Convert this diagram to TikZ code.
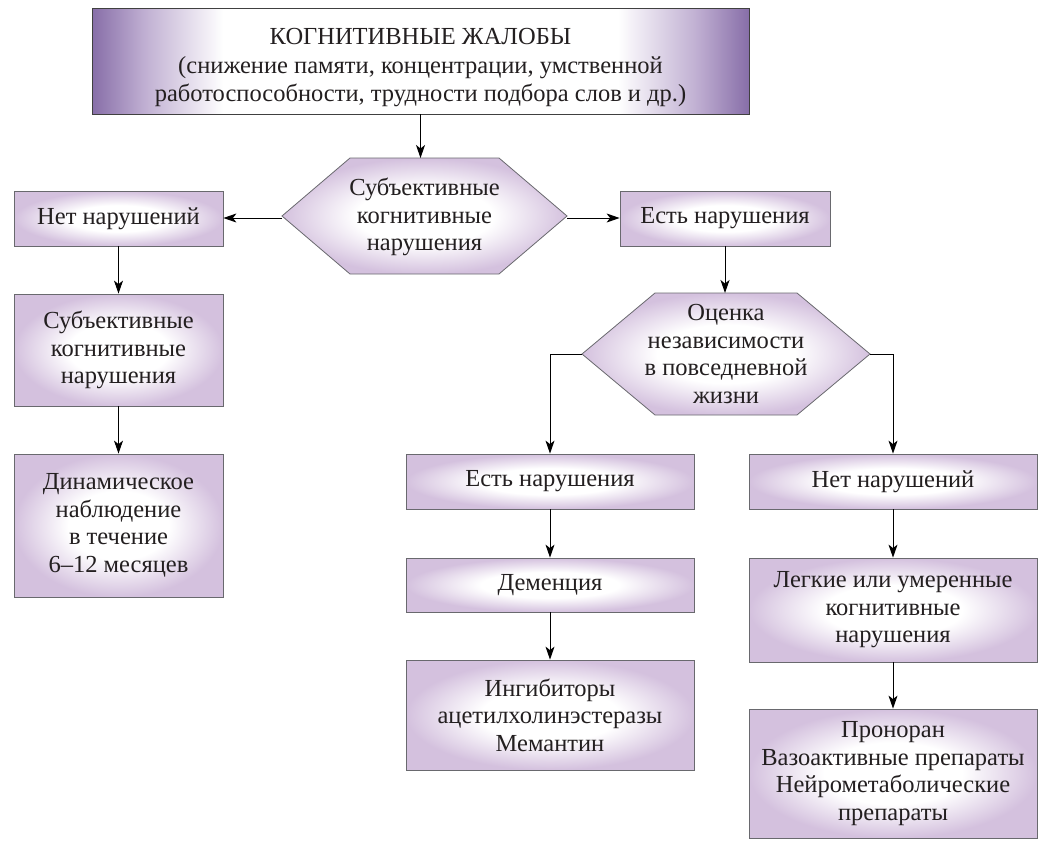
\documentclass[tikz,border=0pt]{standalone}
\usepackage{fontspec}
\setmainfont{Liberation Serif}
\usetikzlibrary{arrows.meta,calc}
\definecolor{boxedge}{RGB}{212,193,222}
\definecolor{topedge}{RGB}{135,110,168}
\definecolor{topmid}{RGB}{192,175,210}
\definecolor{bordergray}{RGB}{105,105,110}
\definecolor{txt}{RGB}{35,31,32}
\pgfdeclareradialshading{boxshade}{\pgfpoint{0bp}{0bp}}{color(0bp)=(white); color(12bp)=(white); color(25bp)=(boxedge); color(50bp)=(boxedge)}
\pgfdeclarehorizontalshading{topshade}{100bp}{color(0bp)=(topedge); color(25bp)=(topedge); color(29bp)=(topmid); color(35bp)=(white); color(65bp)=(white); color(71bp)=(topmid); color(75bp)=(topedge); color(100bp)=(topedge)}
\begin{document}
\begin{tikzpicture}[x=1pt,y=-1pt,
  box/.style={draw=bordergray, line width=0.8pt, shading=boxshade, align=center, inner sep=2pt, font=\fontsize{24.5}{27.5}\selectfont, text=txt},
  topbox/.style={box, shading=topshade, draw=black!75},
  hexfill/.style={draw=bordergray, line width=0.8pt, shading=boxshade},
  lbl/.style={align=center, inner sep=0pt, font=\fontsize{24.5}{27.5}\selectfont, text=txt},
  arr/.style={draw=black, line width=1pt, -{Stealth[length=13pt,width=9pt,inset=3.5pt]}}
]
\useasboundingbox (0,0) rectangle (1043,841);

% top box
\node[topbox, minimum width=657pt, minimum height=106pt] (top) at (420.5,61) {};
\node[lbl, font=\fontsize{24.5}{28.5}\selectfont] (toptext) at (420.5,68) {КОГНИТИВНЫЕ ЖАЛОБЫ\\(снижение памяти, концентрации, умственной\\работоспособности, трудности подбора слов и др.)};

% hexagon 1
\path[hexfill] (282,216) -- (350,158) -- (499,158) -- (567,216) -- (499,274) -- (350,274) -- cycle;
\node[lbl] (h1) at (424.5,217) {Субъективные\\когнитивные\\нарушения};
\coordinate (h1n) at (424.5,158);
\coordinate (h1w) at (282,218);
\coordinate (h1e) at (567,218);

% hexagon 2
\path[hexfill] (582,354) -- (655,293) -- (797,293) -- (870,354) -- (797,415) -- (655,415) -- cycle;
\node[lbl] (h2) at (726,354) {Оценка\\независимости\\в повседневной\\жизни};
\coordinate (h2n) at (726,293);
\coordinate (h2w) at (582,354);
\coordinate (h2e) at (870,354);

% left column
\node[box, minimum width=209pt, minimum height=55pt] (L1) at (118.5,218.5) {Нет нарушений};
\node[box, minimum width=209pt, minimum height=112pt] (L2) at (118.5,350) {Субъективные\\когнитивные\\нарушения};
\node[box, minimum width=209pt, minimum height=143pt] (L3) at (118.5,525.5) {Динамическое\\наблюдение\\в течение\\6–12 месяцев};

% right of hex1
\node[box, minimum width=210pt, minimum height=55pt] (R1) at (725,218.5) {Есть нарушения};

% middle column
\node[box, minimum width=288pt, minimum height=55pt] (M1) at (550,481.5) {Есть нарушения};
\node[box, minimum width=288pt, minimum height=54pt] (M2) at (550,585) {Деменция};
\node[box, minimum width=288pt, minimum height=110pt] (M3) at (550,715) {Ингибиторы\\ацетилхолинэстеразы\\Мемантин};

% right column
\node[box, minimum width=288pt, minimum height=55pt] (R2) at (893,481.5) {Нет нарушений};
\node[box, minimum width=288pt, minimum height=104pt] (R3) at (893,610) {Легкие или умеренные\\когнитивные\\нарушения};
\node[box, minimum width=288pt, minimum height=129pt] (R4) at (893,773.5) {Проноран\\Вазоактивные препараты\\Нейрометаболические\\препараты};

% connectors
\draw[arr] (top.south) -- (top.south |- h1n);
\draw[arr] (h1w) -- (L1.east |- h1w);
\draw[arr] (h1e) -- (R1.west |- h1e);
\draw[arr] (R1.south) -- (R1.south |- h2n);
\draw[arr] (h2w) -| (M1.north);
\draw[arr] (h2e) -| (R2.north);
\draw[arr] (L1.south) -- (L2.north);
\draw[arr] (L2.south) -- (L3.north);
\draw[arr] (M1.south) -- (M2.north);
\draw[arr] (M2.south) -- (M3.north);
\draw[arr] (R2.south) -- (R3.north);
\draw[arr] (R3.south) -- (R4.north);
\end{tikzpicture}
\end{document}
